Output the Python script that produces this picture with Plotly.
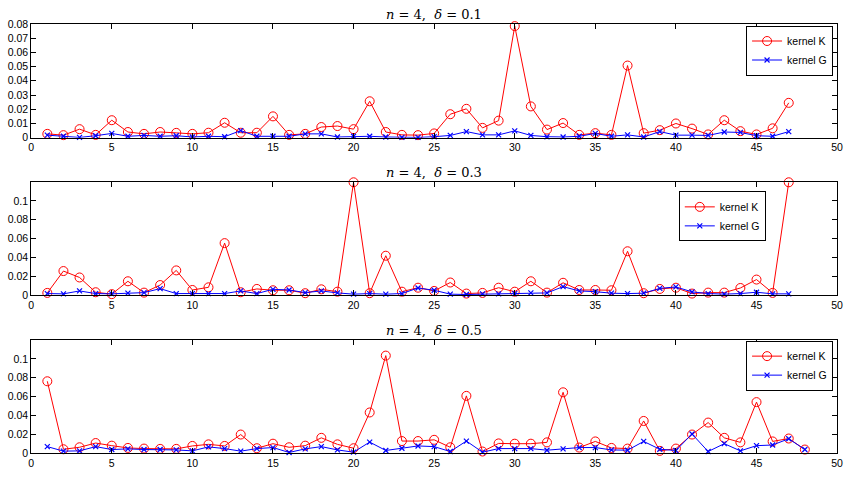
import plotly.graph_objects as go

W, H = 852, 492

x1 = list(range(1, 48))
k1 = [0.0027, 0.0018, 0.006, 0.002, 0.0123, 0.004, 0.0027, 0.004, 0.0034, 0.0027,
      0.0035, 0.0105, 0.0035, 0.0035, 0.015, 0.002, 0.0027, 0.0075, 0.0082, 0.006,
      0.0256, 0.004, 0.002, 0.0018, 0.003, 0.0165, 0.0203, 0.0069, 0.012, 0.0784,
      0.022, 0.0057, 0.0103, 0.002, 0.0032, 0.002, 0.0507, 0.0032, 0.0053, 0.010,
      0.0064, 0.0023, 0.0123, 0.0046, 0.0023, 0.0066, 0.0245]
g1 = [0.0018, 0.001, 0.0002, 0.0014, 0.003, 0.001, 0.0016, 0.001, 0.0014, 0.0005,
      0.001, 0.0007, 0.005, 0.001, 0.001, 0.001, 0.0027, 0.0027, 0.0005, 0.001,
      0.001, 0.0005, 0.0002, 0.0002, 0.0007, 0.0016, 0.0043, 0.002, 0.002, 0.0048,
      0.0016, 0.0007, 0.0005, 0.001, 0.003, 0.001, 0.002, 0.0005, 0.0043, 0.0018,
      0.0018, 0.0016, 0.004, 0.0037, 0.0014, 0.001, 0.0043]

x2 = list(range(1, 48))
k2 = [0.0027, 0.0258, 0.019, 0.0034, 0.0014, 0.015, 0.003, 0.011, 0.0265, 0.0058,
      0.0086, 0.0553, 0.0034, 0.0069, 0.0055, 0.0055, 0.0024, 0.0065, 0.004, 0.1196,
      0.0024, 0.042, 0.004, 0.0082, 0.0048, 0.0137, 0.002, 0.0027, 0.0082, 0.004,
      0.015, 0.003, 0.0134, 0.0058, 0.0058, 0.0055, 0.0467, 0.0024, 0.0069, 0.0082,
      0.002, 0.003, 0.003, 0.0079, 0.0168, 0.0027, 0.1196]
g2 = [0.002, 0.0017, 0.0048, 0.002, 0.0017, 0.0024, 0.003, 0.0072, 0.002, 0.002,
      0.002, 0.002, 0.0048, 0.002, 0.0065, 0.0058, 0.003, 0.0048, 0.0027, 0.0014,
      0.002, 0.0014, 0.002, 0.0079, 0.0055, 0.0014, 0.001, 0.0017, 0.0017, 0.002,
      0.0027, 0.0027, 0.0093, 0.0048, 0.004, 0.0024, 0.002, 0.0024, 0.0075, 0.009,
      0.0038, 0.002, 0.0014, 0.002, 0.0034, 0.0017, 0.0017]

x3 = list(range(1, 49))
k3 = [0.0762, 0.0041, 0.0062, 0.0107, 0.0079, 0.0055, 0.0048, 0.0045, 0.0045, 0.0076,
      0.0093, 0.0076, 0.0197, 0.0052, 0.01, 0.0062, 0.0079, 0.0162, 0.0093, 0.0052,
      0.0431, 0.1034, 0.0128, 0.0128, 0.0141, 0.0062, 0.0607, 0.0017, 0.0103, 0.01,
      0.01, 0.0114, 0.0645, 0.0059, 0.0124, 0.0055, 0.0048, 0.0341, 0.0024, 0.0048,
      0.0197, 0.0324, 0.0162, 0.0114, 0.0541, 0.0124, 0.0155, 0.0038]
g3 = [0.0069, 0.0021, 0.0024, 0.0069, 0.0038, 0.0045, 0.0038, 0.0038, 0.0034, 0.0024,
      0.0066, 0.0048, 0.0021, 0.0048, 0.0059, 0.0007, 0.0045, 0.0069, 0.0034, 0.001,
      0.0117, 0.0028, 0.0052, 0.0076, 0.0069, 0.0017, 0.0128, 0.001, 0.0048, 0.0048,
      0.0048, 0.0031, 0.0045, 0.0059, 0.0059, 0.0034, 0.0031, 0.0124, 0.0041, 0.0028,
      0.0203, 0.0017, 0.01, 0.0024, 0.0079, 0.0086, 0.0152, 0.0038]

titles = ["<i>n</i> = 4,  <i>δ</i> = 0.1", "<i>n</i> = 4,  <i>δ</i> = 0.3",
          "<i>n</i> = 4,  <i>δ</i> = 0.5"]
xticks = list(range(0, 51, 5))
yticks = [[0, 0.01, 0.02, 0.03, 0.04, 0.05, 0.06, 0.07, 0.08],
          [0, 0.02, 0.04, 0.06, 0.08, 0.1],
          [0, 0.02, 0.04, 0.06, 0.08, 0.1]]
ytext = [["0", "0.01", "0.02", "0.03", "0.04", "0.05", "0.06", "0.07", "0.08"],
         ["0", "0.02", "0.04", "0.06", "0.08", "0.1"],
         ["0", "0.02", "0.04", "0.06", "0.08", "0.1"]]
yranges = [[0, 0.08], [0, 0.1196], [0, 0.1196]]

# pixel geometry (top, bottom) of each plot area
panels_px = [(18.3, 135.0), (180.7, 296.7), (342.7, 458.3)]
xl, xr = 28.5, 843.0
# legend boxes (left, top) in px
leg_px = [(751, 20), (683, 190), (751, 343)]

fig = go.Figure()
data = [(x1, k1, g1), (x2, k2, g2), (x3, k3, g3)]
font_tick = dict(family="Liberation Sans, Arial, sans-serif", size=10.5, color="black")

for i, (xs, ks, gs) in enumerate(data):
    n = i + 1
    xa = "x" if n == 1 else f"x{n}"
    ya = "y" if n == 1 else f"y{n}"
    lg = "legend" if n == 1 else f"legend{n}"
    fig.add_trace(go.Scatter(x=xs, y=ks, mode="lines+markers", name="kernel K",
                             xaxis=xa, yaxis=ya, legend=lg, cliponaxis=False,
                             line=dict(color="#ff0000", width=1),
                             marker=dict(symbol="circle-open", size=9, color="#ff0000",
                                         line=dict(width=1, color="#ff0000"))))
    fig.add_trace(go.Scatter(x=xs, y=gs, mode="lines+markers", name="kernel G",
                             xaxis=xa, yaxis=ya, legend=lg, cliponaxis=False,
                             line=dict(color="#0000ff", width=1),
                             marker=dict(symbol="x-thin-open", size=5, color="#0000ff",
                                         line=dict(width=1.2, color="#0000ff"))))
    top, bot = panels_px[i]
    ydom = [1 - bot / H, 1 - top / H]
    axis_common = dict(showline=True, linecolor="black", linewidth=1, mirror="ticks",
                       ticks="inside", ticklen=5, tickcolor="black", showgrid=False,
                       zeroline=False, tickfont=font_tick)
    fig.layout[("xaxis" if n == 1 else f"xaxis{n}")] = dict(
        domain=[xl / W, xr / W], range=[0, 50], tickvals=xticks, anchor=ya, **axis_common)
    fig.layout[("yaxis" if n == 1 else f"yaxis{n}")] = dict(
        domain=ydom, range=yranges[i], tickvals=yticks[i], ticktext=ytext[i],
        anchor=xa, **axis_common)
    lx, ly = leg_px[i]
    fig.layout[lg] = dict(x=lx / W, y=1 - ly / H, xanchor="left", yanchor="top",
                          bgcolor="white", bordercolor="black", borderwidth=1,
                          font=dict(family="Liberation Sans, Arial, sans-serif", size=10.5,
                                    color="black"),
                          tracegroupgap=0, itemwidth=30)
    fig.add_annotation(text=titles[i], xref="paper", yref="paper",
                       x=(xl + xr) / 2 / W, y=1 - (top - 10) / H,
                       xanchor="center", yanchor="middle", showarrow=False,
                       font=dict(family="DejaVu Serif, Liberation Serif, serif", size=13,
                                 color="black"))

fig.update_layout(width=W, height=H, margin=dict(l=0, r=0, t=0, b=0),
                  paper_bgcolor="white", plot_bgcolor="white", showlegend=True)

fig.write_html("out.html")
